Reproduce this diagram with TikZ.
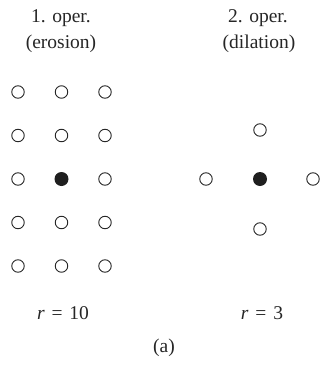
\documentclass[tikz,border=0pt]{standalone}
\usepackage{fontspec}
\setmainfont{Liberation Serif}
\begin{document}
\begin{tikzpicture}[x=1pt,y=-1pt,
  opn/.style={circle,draw=black!85,line width=0.9pt,minimum size=12.5pt,inner sep=0pt},
  fil/.style={circle,fill=black!88,minimum size=14pt,inner sep=0pt},
  lab/.style={font=\fontsize{19.5}{23}\selectfont,text=black!85,inner sep=0pt,align=center}]
\useasboundingbox (0,0) rectangle (321,370);
% titles
\node[lab] (t1a) at (61,18) {1. oper.};
\node[lab] (t1b) at (61,44) {(erosion)};
\node[lab] (t2a) at (258,18) {2. oper.};
\node[lab] (t2b) at (259,44) {(dilation)};
% left grid
\foreach \r/\y in {1/92,2/135.5,3/179,4/222.5,5/266}{
  \foreach \c/\x in {1/18,2/61.5,3/105}{
    \ifnum\r=3 \ifnum\c=2 \else \node[opn] (e\r\c) at (\x,\y) {};\fi
    \else \node[opn] (e\r\c) at (\x,\y) {};\fi
  }
}
\node[fil] (e32) at (61.5,179) {};
% right cross
\node[opn] (d1) at (260,130) {};
\node[opn] (d2) at (206,179) {};
\node[fil] (d0) at (260,179) {};
\node[opn] (d3) at (313,179) {};
\node[opn] (d4) at (260,229) {};
% radii
\node[lab] (r1) at (63,313) {\textit{r}\hspace{0.35em}=\hspace{0.35em}10};
\node[lab] (r2) at (262,313) {\textit{r}\hspace{0.35em}=\hspace{0.35em}3};
\node[lab] (cap) at (164,348) {(a)};
\end{tikzpicture}
\end{document}
